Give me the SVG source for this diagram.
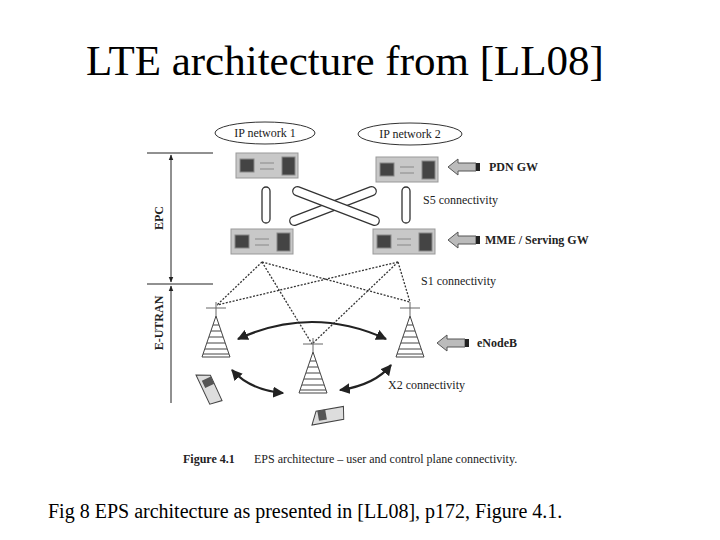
<svg xmlns="http://www.w3.org/2000/svg" width="720" height="540" viewBox="0 0 720 540">
<style>
.t{font-family:"Liberation Serif",serif;fill:#000}
.s{font-family:"Liberation Serif",serif;font-size:12px;fill:#222}
.b{font-weight:bold}
.srv{fill:#c8c8c8;stroke:#999}
.tube{fill:#fff;stroke:#333;stroke-width:1.3}
.dot{stroke:#333;stroke-width:1.3;stroke-dasharray:2 1.5;fill:none}
.arc{stroke:#222;stroke-width:2.2;fill:none;marker-start:url(#ah);marker-end:url(#ah)}
.bl{fill:#444;stroke:#888}
.twr{fill:#fff;stroke:#444}
.ga{fill:#bbb;stroke:#555}
</style>
<defs>
<marker id="ah" viewBox="0 0 10 10" refX="9" refY="5" markerWidth="5" markerHeight="5" orient="auto-start-reverse"><path d="M0,0L10,5L0,10z" fill="#222"/></marker>
<marker id="sa" viewBox="0 0 10 10" refX="9" refY="5" markerWidth="6" markerHeight="6" orient="auto-start-reverse"><path d="M0,1L10,5L0,9z" fill="#222"/></marker>
<g id="server"><rect class="srv" x="0" y="0" width="62" height="25"/><rect class="bl" x="4" y="6" width="14" height="13" fill="#777"/><rect class="bl" x="46" y="4" width="13" height="18"/><line x1="24" y1="10" x2="38" y2="10" stroke="#888"/><line x1="24" y1="16" x2="38" y2="16" stroke="#888"/></g>
<g id="tower"><path class="twr" d="M0,0L-14,41L14,41Z"/><path d="M-3,9h6M-5,15h10M-7,21h14M-9,27h18M-11,33h22M-13,38h26" stroke="#444"/><path d="M-10,-8h20M0,-14v14" stroke="#666"/></g>
<g id="phone"><path d="M0,0l12,-8l24,14l-8,10z" fill="#ddd" stroke="#444"/><rect x="10" y="-6" width="8" height="10" fill="#555" transform="rotate(30 14 -1)"/></g>
<g id="garrow"><path class="ga" d="M0,0l10,-8v4h18v8h-18v4z"/><rect x="28" y="-4" width="4" height="8" fill="#222"/></g>
</defs>
<text class="t" x="345" y="75" font-size="43" text-anchor="middle">LTE architecture from [LL08]</text>
<g id="brackets" stroke="#222" fill="none">
<line x1="147" y1="153" x2="213" y2="153"/><line x1="147" y1="284" x2="213" y2="284"/>
<line x1="171" y1="155" x2="171" y2="282" marker-start="url(#sa)" marker-end="url(#sa)"/>
<line x1="171" y1="286" x2="171" y2="403" marker-start="url(#sa)"/>
</g>
<text class="s b" transform="translate(163,218) rotate(-90)" text-anchor="middle">EPC</text>
<text class="s b" transform="translate(163,323) rotate(-90)" text-anchor="middle">E-UTRAN</text>
<g id="connectors">
<path class="dot" d="M262,262L217,305M262,262L312,344M262,262L410,302M398,262L217,305M398,262L312,344M398,262L410,302"/>
<rect class="tube" x="262" y="187" width="8" height="36" rx="4"/>
<rect class="tube" x="402" y="187" width="8" height="36" rx="4"/>
<rect class="tube" x="-46" y="-4.5" width="92" height="9" rx="4.5" transform="translate(333,206) rotate(-21)"/>
<rect class="tube" x="-46" y="-4.5" width="92" height="9" rx="4.5" transform="translate(336,206) rotate(21)"/>
<path class="arc" d="M238,339Q312,305 386,339"/>
<path class="arc" d="M232,370Q250,390 283,393"/>
<path class="arc" d="M340,390Q375,385 391,365"/>
</g>
<g id="ipnet1"><ellipse cx="265" cy="133" rx="50" ry="11" fill="#fff" stroke="#333"/><text class="s" x="265" y="137" text-anchor="middle">IP network 1</text></g>
<g id="ipnet2"><ellipse cx="410" cy="134" rx="52" ry="11" fill="#fff" stroke="#333"/><text class="s" x="410" y="138" text-anchor="middle">IP network 2</text></g>
<g id="pdn1"><use href="#server" x="236" y="153"/></g>
<g id="pdn2"><use href="#server" x="376" y="157"/></g>
<g id="mme1"><use href="#server" x="231" y="229"/></g>
<g id="mme2"><use href="#server" x="373" y="229"/></g>
<g id="enb1"><use href="#tower" x="216" y="316"/></g>
<g id="enb2"><use href="#tower" x="313" y="352"/></g>
<g id="enb3"><use href="#tower" x="410" y="316"/></g>
<g id="ue1"><use href="#phone" transform="translate(196,375) rotate(35)"/></g>
<g id="ue2"><use href="#phone" transform="translate(312,425) rotate(-40)"/></g>
<g id="labels">
<use href="#garrow" x="448" y="167"/><text class="s b" x="489" y="171">PDN GW</text>
<text class="s" x="423" y="204">S5 connectivity</text>
<use href="#garrow" x="448" y="240"/><text class="s b" x="485" y="244">MME / Serving GW</text>
<text class="s" x="421" y="285">S1 connectivity</text>
<use href="#garrow" x="437" y="343"/><text class="s b" x="477" y="347">eNodeB</text>
<text class="s" x="388" y="389">X2 connectivity</text>
</g>
<text class="s" x="183" y="463" font-size="13"><tspan class="b">Figure 4.1</tspan><tspan x="254">EPS architecture – user and control plane connectivity.</tspan></text>
<text class="t" x="48" y="518" font-size="20">Fig 8 EPS architecture as presented in [LL08], p172, Figure 4.1.</text>
</svg>
